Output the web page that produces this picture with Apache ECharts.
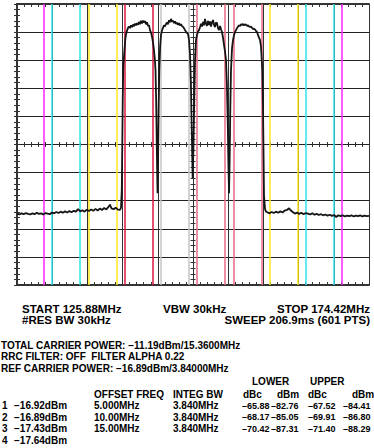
<!DOCTYPE html>
<html>
<head>
<meta charset="utf-8">
<script src="https://cdn.jsdelivr.net/npm/echarts/dist/echarts.min.js"></script>
<style>
  html, body { margin: 0; padding: 0; background: #fff; }
  #chart { width: 374px; height: 448px; }
</style>
</head>
<body>
<div id="chart"></div>
<script>
// Sweep settings
const START_MHZ = 125.88;
const STOP_MHZ = 174.42;
const REF_LEVEL_DBM = -30;
const DB_PER_DIV = 10;
const DIVISIONS = 10;

// Carriers and ACP integration bands
const CARRIER_CENTER_MHZ = [142.65, 147.65, 152.65, 157.65];
const INTEG_BW_MHZ = 3.84;
const ADJ_OFFSET_MHZ = [5, 10, 15];

// Measured trace: [frequency MHz, level dBm]
const TRACE = [
  [125.88, -104.6], [126.2, -104.9], [126.5, -104.5], [126.8, -104.8], [127.1, -104.4],
  [127.4, -104.7], [127.7, -104.9], [128.0, -104.5], [128.3, -104.8], [128.6, -104.3],
  [128.9, -104.7], [129.2, -104.5], [129.5, -104.9], [129.8, -104.4], [130.1, -104.6],
  [130.4, -104.8], [130.7, -104.2], [131.0, -104.5], [131.3, -104.0], [131.6, -104.4],
  [131.9, -103.9], [132.2, -104.3], [132.5, -103.8], [132.8, -104.2], [133.1, -103.7],
  [133.4, -104.1], [133.7, -103.6], [134.0, -103.9], [134.3, -103.0], [134.6, -103.8],
  [134.9, -103.4], [135.2, -103.9], [135.5, -103.2], [135.8, -103.7], [136.1, -103.1],
  [136.4, -103.6], [136.7, -102.9], [137.0, -103.5], [137.3, -102.8], [137.6, -103.3],
  [137.9, -102.6], [138.2, -103.1], [138.5, -102.2], [138.7, -101.4], [138.9, -102.7],
  [139.2, -103.0], [139.5, -102.5], [139.8, -103.2], [140.05, -103.3], [140.22, -102.6],
  [140.33, -96.2], [140.39, -82.0], [140.46, -64.2], [140.53, -52.4], [140.70, -46.4],
  [140.83, -42.1], [140.98, -40.0], [141.19, -38.5],
  [141.33, -38.0], [141.46, -38.6], [141.60, -37.6], [141.74, -38.2], [141.88, -37.3],
  [142.01, -37.9], [142.15, -37.0], [142.29, -37.6], [142.43, -36.8], [142.57, -37.4],
  [142.70, -36.4], [142.84, -37.2], [142.98, -36.0], [143.12, -36.9], [143.26, -35.9],
  [143.39, -36.6], [143.53, -36.1], [143.67, -37.2], [143.81, -36.5], [143.94, -37.8],
  [144.08, -37.5], [144.22, -39.3], [144.36, -40.2], [144.50, -41.7], [144.63, -43.6],
  [144.77, -46.4], [144.88, -49.5], [144.98, -53.5], [145.08, -66.0], [145.18, -85.0],
  [145.26, -97.3], [145.34, -84.0], [145.42, -66.0], [145.50, -53.5], [145.62, -45.0],
  [145.74, -41.0], [145.88, -39.4], [146.01, -38.5],
  [146.15, -37.6], [146.29, -38.0], [146.43, -37.1], [146.57, -36.6], [146.70, -37.2],
  [146.84, -35.8], [146.98, -36.5], [147.12, -35.3], [147.26, -36.3], [147.39, -35.9],
  [147.53, -36.8], [147.67, -36.2], [147.81, -37.1], [147.94, -36.6], [148.08, -37.4],
  [148.22, -36.8], [148.36, -37.6], [148.50, -37.2], [148.63, -37.9], [148.77, -38.1],
  [148.91, -38.6], [149.05, -39.3], [149.18, -39.8], [149.32, -40.3], [149.46, -40.6],
  [149.60, -42.8], [149.74, -48.0], [149.86, -58.0], [149.98, -75.0], [150.10, -91.9],
  [150.22, -80.0], [150.34, -62.0], [150.43, -50.0], [150.56, -42.8], [150.70, -41.0],
  [150.84, -39.8], [150.98, -39.3],
  [151.12, -38.2], [151.26, -37.0], [151.40, -38.0], [151.53, -36.4], [151.67, -37.6],
  [151.80, -35.3], [151.94, -37.0], [152.08, -37.8], [152.22, -36.0], [152.36, -37.5],
  [152.50, -36.2], [152.63, -38.0], [152.77, -36.5], [152.91, -35.7], [153.05, -37.4],
  [153.19, -38.2], [153.32, -36.6], [153.46, -36.8], [153.60, -38.6], [153.74, -39.3],
  [153.88, -37.8], [154.01, -39.0], [154.15, -40.0], [154.29, -42.0], [154.43, -44.6],
  [154.57, -47.0], [154.70, -49.9], [154.82, -58.0], [154.94, -72.0], [155.04, -88.0],
  [155.12, -97.3], [155.20, -86.0], [155.29, -68.0], [155.39, -53.5], [155.53, -45.7],
  [155.67, -42.8], [155.81, -41.0], [155.95, -40.0], [156.08, -39.3],
  [156.22, -38.6], [156.36, -38.0], [156.50, -37.6], [156.63, -37.9], [156.77, -37.2],
  [156.91, -37.5], [157.05, -37.1], [157.19, -37.6], [157.32, -37.2], [157.46, -37.4],
  [157.60, -37.8], [157.74, -37.6], [157.87, -38.0], [158.01, -38.2], [158.15, -38.0],
  [158.29, -38.5], [158.42, -38.9], [158.56, -38.8], [158.70, -39.1], [158.84, -39.6],
  [158.97, -39.9], [159.11, -41.0], [159.25, -42.0], [159.39, -42.8], [159.53, -45.3],
  [159.71, -53.5], [159.80, -66.0], [159.87, -82.0], [159.94, -98.0], [160.08, -103.0],
  [160.22, -103.9],
  [160.4, -104.1], [160.7, -104.5], [161.0, -104.0], [161.3, -104.4], [161.6, -103.9],
  [161.9, -104.3], [162.2, -103.8], [162.5, -104.2], [162.8, -103.5], [163.1, -103.3],
  [163.4, -102.7], [163.6, -103.4], [163.9, -104.0], [164.2, -104.6], [164.5, -104.2],
  [164.8, -104.7], [165.1, -104.3], [165.4, -104.8], [165.7, -104.4], [166.0, -104.6],
  [166.3, -104.9], [166.6, -104.5], [166.9, -105.0], [167.2, -104.7], [167.5, -105.1],
  [167.8, -104.8], [168.1, -105.2], [168.4, -104.9], [168.7, -105.3], [169.0, -105.0],
  [169.3, -105.4], [169.6, -105.1], [169.9, -105.8], [170.2, -105.2], [170.5, -105.5],
  [170.8, -105.2], [171.1, -105.6], [171.4, -105.3], [171.7, -105.5], [172.0, -105.2],
  [172.3, -105.6], [172.6, -105.3], [172.9, -105.5], [173.2, -105.2], [173.5, -105.6],
  [173.8, -105.3], [174.1, -105.5], [174.42, -105.4]
];

// Annotation text
const SWEEP_LINE_1 = ['START 125.88MHz', 'VBW 30kHz', 'STOP 174.42MHz'];
const SWEEP_LINE_2 = ['#RES BW 30kHz', 'SWEEP 206.9ms (601 PTS)'];
const SUMMARY_LINES = [
  'TOTAL CARRIER POWER: \u221211.19dBm/15.3600MHz',
  'RRC FILTER: OFF  FILTER ALPHA 0.22',
  'REF CARRIER POWER: \u221216.89dBm/3.84000MHz'
];
const CARRIER_POWER = ['\u221216.92dBm', '\u221216.89dBm', '\u221217.43dBm', '\u221217.64dBm'];
const OFFSET_FREQ = ['5.000MHz', '10.00MHz', '15.00MHz'];
const INTEG_BW = ['3.840MHz', '3.840MHz', '3.840MHz'];
const LOWER_DBC = ['\u201365.88', '\u201368.17', '\u201370.42'];
const LOWER_DBM = ['\u201382.76', '\u201385.05', '\u201387.31'];
const UPPER_DBC = ['\u201367.52', '\u201369.91', '\u201371.40'];
const UPPER_DBM = ['\u201384.41', '\u201386.80', '\u201388.29'];

// ---- build ----
const MHZ_PER_DIV = (STOP_MHZ - START_MHZ) / DIVISIONS;
const toDiv = f => (f - START_MHZ) / MHZ_PER_DIV;
const Y_MIN = REF_LEVEL_DBM - DB_PER_DIV * DIVISIONS;

const CARRIER_COLORS = ['#d81840', '#c6c6c6', '#ea6a84', '#ea6a84'];
const OFFSET_COLORS = ['#ffe81c', '#2ce6ee', '#ff24ff'];

const bandLines = [];
const half = INTEG_BW_MHZ / 2;
CARRIER_CENTER_MHZ.forEach((c, i) => {
  [c - half, c + half].forEach(f => bandLines.push({ f, color: CARRIER_COLORS[i] }));
});
const lowest = CARRIER_CENTER_MHZ[0], highest = CARRIER_CENTER_MHZ[CARRIER_CENTER_MHZ.length - 1];
ADJ_OFFSET_MHZ.forEach((off, i) => {
  [lowest - off, highest + off].forEach(c => {
    [c - half, c + half].forEach(f => bandLines.push({ f, color: OFFSET_COLORS[i] }));
  });
});
const markData = bandLines
  .filter(b => b.f > START_MHZ && b.f < STOP_MHZ)
  .map(b => ({ xAxis: toDiv(b.f), lineStyle: { color: b.color, width: 1.5, type: 'solid' } }));

const EDGE = '#333333';
const tick = (inside, len) => ({ show: true, inside, length: len, lineStyle: { color: EDGE, width: 1 } });
const minor = len => ({ show: true, splitNumber: 5, length: len, lineStyle: { color: EDGE, width: 1 } });

const xBase = { type: 'value', min: 0, max: DIVISIONS, interval: 1, axisLabel: { show: false } };
const yBase = { type: 'value', min: Y_MIN, max: REF_LEVEL_DBM, interval: DB_PER_DIV, axisLabel: { show: false } };

const GRID_W = 352, GRID_H = 281;

const xAxes = [
  Object.assign({}, xBase, {
    position: 'bottom',
    axisLine: { show: true, lineStyle: { color: EDGE, width: 2 } },
    axisTick: tick(true, 3), minorTick: minor(3),
    splitLine: { show: true, lineStyle: { color: '#333333', width: 1 } }
  }),
  Object.assign({}, xBase, {
    position: 'top',
    axisLine: { show: true, lineStyle: { color: EDGE, width: 2 } },
    axisTick: tick(true, 3), minorTick: minor(3), splitLine: { show: false }
  }),
  Object.assign({}, xBase, {
    position: 'bottom', offset: -GRID_H / 2,
    axisLine: { show: false }, axisTick: tick(true, 2.5), minorTick: minor(2.5), splitLine: { show: false }
  }),
  Object.assign({}, xBase, {
    position: 'bottom', offset: -GRID_H / 2,
    axisLine: { show: false }, axisTick: tick(false, 2.5), minorTick: minor(2.5), splitLine: { show: false }
  })
];
const yAxes = [
  Object.assign({}, yBase, {
    position: 'left',
    axisLine: { show: true, lineStyle: { color: EDGE, width: 2 } },
    axisTick: tick(true, 3), minorTick: minor(3),
    splitLine: { show: true, lineStyle: { color: '#222222', width: 1 } }
  }),
  Object.assign({}, yBase, {
    position: 'right',
    axisLine: { show: true, lineStyle: { color: EDGE, width: 2 } },
    axisTick: tick(true, 3), minorTick: minor(3), splitLine: { show: false }
  }),
  Object.assign({}, yBase, {
    position: 'left', offset: -GRID_W / 2,
    axisLine: { show: false }, axisTick: tick(true, 2.5), minorTick: minor(2.5), splitLine: { show: false }
  }),
  Object.assign({}, yBase, {
    position: 'left', offset: -GRID_W / 2,
    axisLine: { show: false }, axisTick: tick(false, 2.5), minorTick: minor(2.5), splitLine: { show: false }
  })
];

const FAMILY = '"Liberation Sans", Arial, sans-serif';
const FONT_A = 'bold 11.5px ' + FAMILY;
const FONT_B = 'bold 10px ' + FAMILY;
const FONT_C = 'bold 9px ' + FAMILY;
const texts = [];
function txt(s, x, y, font, align) {
  texts.push({
    type: 'text', x, y, silent: true,
    style: {
      text: s, font, fill: '#000', lineHeight: 10,
      textAlign: align || 'left', textVerticalAlign: 'middle'
    }
  });
}
txt(SWEEP_LINE_1[0], 22, 309, FONT_A);
txt(SWEEP_LINE_1[1], 163, 309, FONT_A);
txt(SWEEP_LINE_1[2], 370, 309, FONT_A, 'right');
txt(SWEEP_LINE_2[0], 22, 320.3, FONT_A);
txt(SWEEP_LINE_2[1], 370, 320.3, FONT_A, 'right');
SUMMARY_LINES.forEach((s, i) => txt(s, 1, 345 + i * 11.6, FONT_B));
txt('LOWER', 252, 381.7, FONT_B);
txt('UPPER', 310, 381.7, FONT_B);
txt('OFFSET FREQ', 94, 394.5, FONT_B);
txt('INTEG BW', 173, 394.5, FONT_B);
txt('dBc', 243, 394.5, FONT_B);
txt('dBm', 277, 394.5, FONT_B);
txt('dBc', 308, 394.5, FONT_B);
txt('dBm', 352, 394.5, FONT_B);
CARRIER_POWER.forEach((p, i) => {
  const y = 405.5 + i * 11.5;
  txt(String(i + 1), 2, y, FONT_B);
  txt(p, 14, y, FONT_B);
  if (i < OFFSET_FREQ.length) {
    txt(OFFSET_FREQ[i], 94, y, FONT_B);
    txt(INTEG_BW[i], 173, y, FONT_B);
    txt(LOWER_DBC[i], 242, y, FONT_C);
    txt(LOWER_DBM[i], 271, y, FONT_C);
    txt(UPPER_DBC[i], 308, y, FONT_C);
    txt(UPPER_DBM[i], 343, y, FONT_C);
  }
});

const chart = echarts.init(document.getElementById('chart'), null, { renderer: 'svg' });
chart.setOption({
  animation: false,
  backgroundColor: '#ffffff',
  grid: { left: 17, top: 4, width: GRID_W, height: GRID_H, containLabel: false },
  xAxis: xAxes,
  yAxis: yAxes,
  series: [
    {
      type: 'line', data: [], z: 1, silent: true,
      markLine: { silent: true, symbol: ['none', 'none'], label: { show: false }, data: markData, animation: false }
    },
    {
      type: 'line', z: 5, silent: true, showSymbol: false, symbol: 'none',
      data: TRACE.map(p => [toDiv(p[0]), p[1]]),
      lineStyle: { color: '#151515', width: 1.8 },
      clip: true
    }
  ],
  graphic: texts
});
</script>
</body>
</html>
